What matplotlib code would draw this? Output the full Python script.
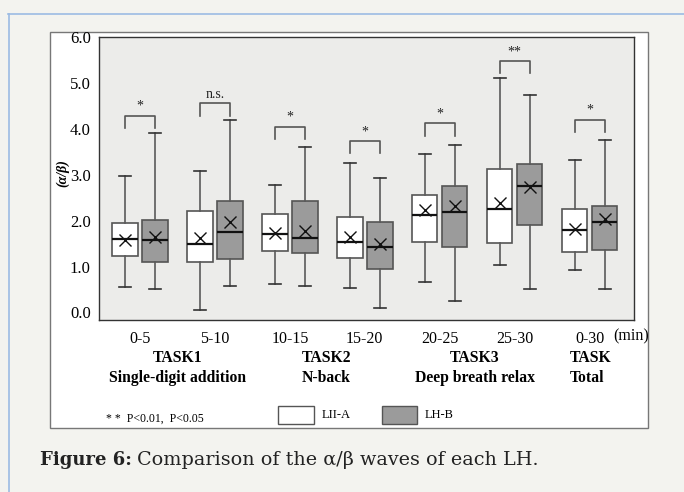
import numpy as np
import matplotlib
matplotlib.use("Agg")
import matplotlib.pyplot as plt
from matplotlib.patches import Rectangle
from matplotlib.lines import Line2D

# periods (x tick labels)
periods = ["0-5", "5-10", "10-15", "15-20", "20-25", "25-30", "0-30"]

# LH-A (white boxes): whisker low, q1, median, q3, whisker high, mean
a_low = [0.56, 0.06, 0.62, 0.54, 0.67, 1.03, 0.92]
a_q1 = [1.23, 1.11, 1.34, 1.18, 1.54, 1.52, 1.31]
a_med = [1.61, 1.49, 1.70, 1.54, 2.13, 2.26, 1.79]
a_q3 = [1.94, 2.21, 2.15, 2.08, 2.56, 3.13, 2.26]
a_high = [2.97, 3.09, 2.78, 3.26, 3.45, 5.12, 3.33]
a_mean = [1.59, 1.63, 1.73, 1.64, 2.23, 2.39, 1.81]

# LH-B (grey boxes)
b_low = [0.52, 0.58, 0.58, 0.10, 0.26, 0.52, 0.52]
b_q1 = [1.09, 1.17, 1.30, 0.94, 1.43, 1.91, 1.36]
b_med = [1.58, 1.75, 1.63, 1.42, 2.19, 2.75, 1.98]
b_q3 = [2.01, 2.43, 2.43, 1.98, 2.75, 3.24, 2.33]
b_high = [3.92, 4.20, 3.60, 2.94, 3.65, 4.75, 3.75]
b_mean = [1.64, 1.98, 1.78, 1.49, 2.31, 2.73, 2.03]

# significance marks: label, bracket top, leg bottom
sig_labels = ["*", "n.s.", "*", "*", "*", "**", "*"]
sig_top = [4.29, 4.56, 4.05, 3.73, 4.12, 5.48, 4.20]
sig_leg = [4.03, 4.29, 3.79, 3.47, 3.85, 5.22, 3.93]

# task captions under the axis
task_names = ["TASK1", "TASK2", "TASK3", "TASK"]
task_desc = ["Single-digit addition", "N-back", "Deep breath relax", "Total"]

PAGE = "#f3f3ef"
serif = "Liberation Serif"

fig = plt.figure(figsize=(6.84, 4.92), dpi=100, facecolor=PAGE)
W, H = 684.0, 492.0

def fx(px):
    return px / W

def fy(py):
    return 1 - py / H

# page frame lines and white figure panel
fig.add_artist(Line2D([fx(8), 1], [fy(13.5), fy(13.5)], color="#9cbbe3", lw=1.2))
fig.add_artist(Line2D([fx(8.5), fx(8.5)], [fy(13.5), 0], color="#9cbbe3", lw=1.2))
fig.add_artist(Rectangle((fx(50), fy(427.5)), fx(647.5) - fx(50), fy(31.7) - fy(427.5),
                         facecolor="white", edgecolor="#777777", lw=1.0, zorder=0))

ax = fig.add_axes([fx(99), fy(320), fx(634) - fx(99), fy(37) - fy(320)])
ax.set_facecolor("#ececea")

groups = np.arange(1, len(periods) + 1)
off = 0.2
width = 0.34

def stats(low, q1, med, q3, high, mean):
    out = []
    for i in range(len(low)):
        out.append({"whislo": low[i], "q1": q1[i], "med": med[i], "q3": q3[i],
                    "whishi": high[i], "mean": mean[i], "fliers": []})
    return out

common = dict(widths=width, showmeans=True, patch_artist=True,
              whiskerprops=dict(color="#5a5a5a", lw=1.2),
              capprops=dict(color="#333333", lw=1.2),
              medianprops=dict(color="#111111", lw=1.6),
              meanprops=dict(marker="x", markeredgecolor="#111111", markersize=9, markeredgewidth=1.0))

bp_a = ax.bxp(stats(a_low, a_q1, a_med, a_q3, a_high, a_mean), positions=groups - off,
              boxprops=dict(facecolor="white", edgecolor="#555555", lw=1.2), **common)
bp_b = ax.bxp(stats(b_low, b_q1, b_med, b_q3, b_high, b_mean), positions=groups + off,
              boxprops=dict(facecolor="#9b9b9b", edgecolor="#555555", lw=1.2), **common)
for c in bp_a["caps"] + bp_b["caps"]:
    x0, x1 = c.get_xdata()
    m = (x0 + x1) / 2
    c.set_xdata([m - 0.08, m + 0.08])

# significance brackets
for i, g in enumerate(groups):
    xl, xr = g - off, g + off
    ax.plot([xl, xl, xr, xr], [sig_leg[i], sig_top[i], sig_top[i], sig_leg[i]],
            color="#555555", lw=1.2)
    ax.text(g, sig_top[i] + 0.06, sig_labels[i], ha="center", va="bottom",
            fontsize=10, family=serif, color="#222222")

ax.set_xlim(0.453, 7.593)
ax.set_ylim(-0.165, 6.005)
ax.set_yticks(np.arange(0, 7, 1))
ax.set_yticklabels([f"{v:.1f}" for v in range(7)], family=serif, fontsize=12)
ax.set_xticks(groups)
ax.set_xticklabels(periods, family=serif, fontsize=11.5)
ax.tick_params(length=0, pad=8)
ax.tick_params(axis="y", pad=6)
for s in ax.spines.values():
    s.set_color("#333333")
    s.set_linewidth(1.0)

xt = ax.get_xaxis_transform()
ax.text(7.55, -0.059, "(min)", transform=xt, ha="center", va="center",
        family=serif, fontsize=11.5)
ax.text(-0.068, 0.52, "(α/β)", transform=ax.transAxes, rotation=90, ha="center",
        va="center", family=serif, fontsize=10, fontweight="bold", fontstyle="italic")

task_x = [1.5, 3.49, 5.47, 6.74]
for i in range(len(task_names)):
    ha = "left" if i == 3 else "center"
    ax.text(task_x[i], -0.134, task_names[i], transform=xt, ha=ha, va="center",
            family=serif, fontsize=11.3, fontweight="bold")
    ax.text(task_x[i], -0.205, task_desc[i], transform=xt, ha=ha, va="center",
            family=serif, fontsize=11.3, fontweight="bold")

# footnote and legend
fig.text(fx(106), fy(419), "* *  P<0.01,  P<0.05", family=serif, fontsize=8.5,
         ha="left", va="center")
fig.add_artist(Rectangle((fx(277.5), fy(424.3)), fx(36), fy(405.7) - fy(424.3),
                         facecolor="white", edgecolor="#555555", lw=1.0))
fig.add_artist(Rectangle((fx(381.7), fy(424.3)), fx(35), fy(405.7) - fy(424.3),
                         facecolor="#9b9b9b", edgecolor="#555555", lw=1.0))
fig.text(fx(321.5), fy(415), "LII-A", family=serif, fontsize=9, ha="left", va="center")
fig.text(fx(425), fy(415), "LH-B", family=serif, fontsize=9, ha="left", va="center")

# caption
cap = fig.text(fx(40), fy(460), "Figure 6:", family="DejaVu Serif", fontsize=13,
               fontweight="bold", ha="left", va="center", color="#222222")
r = fig.canvas.get_renderer()
bb = cap.get_window_extent(renderer=r)
fig.text(bb.x1 / (fig.dpi * fig.get_figwidth()) + fx(5), fy(460),
         "Comparison of the α/β waves of each LH.", family="DejaVu Serif",
         fontsize=13.8, ha="left", va="center", color="#222222")

fig.savefig("out.png", dpi=100, facecolor=PAGE)
